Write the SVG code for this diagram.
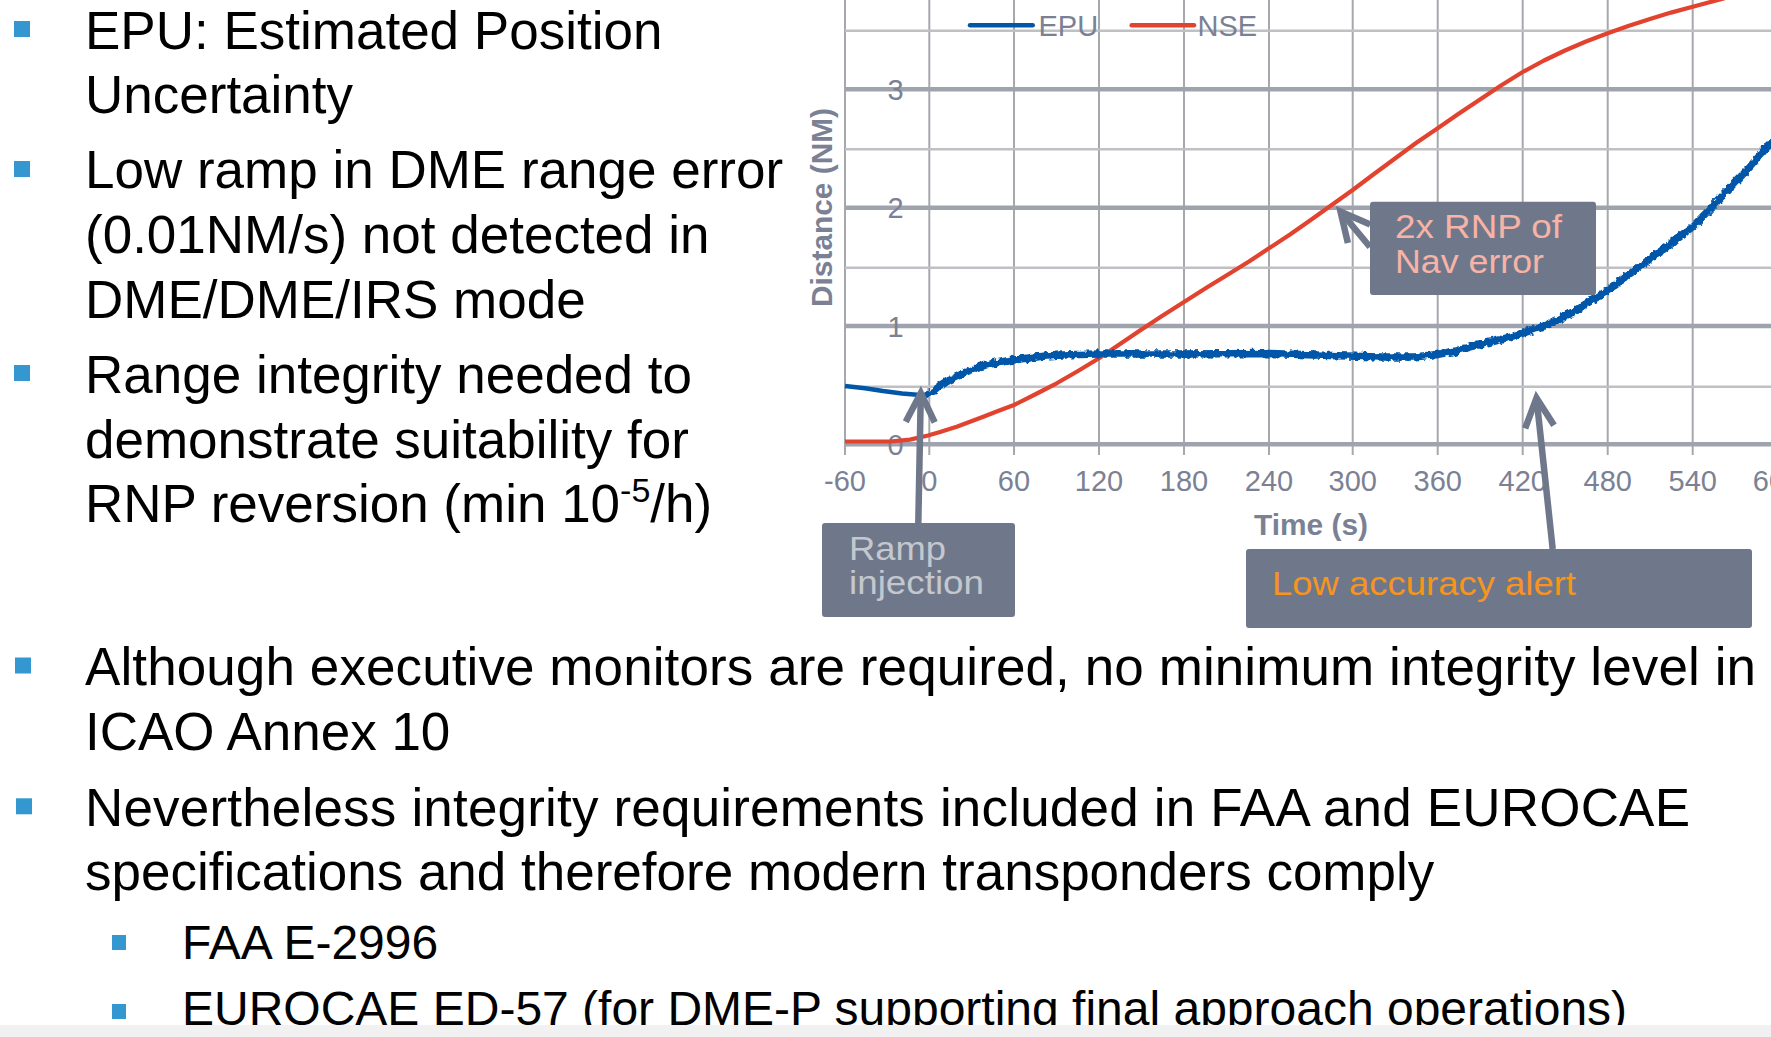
<svg xmlns="http://www.w3.org/2000/svg" width="1771" height="1037" viewBox="0 0 1771 1037">
<style>
.body{font-family:"Liberation Sans",Arial,sans-serif;font-size:53px;fill:#000}
.sub{font-family:"Liberation Sans",Arial,sans-serif;font-size:48px;fill:#000}
.bul{fill:#3497d0}
.tick{font-family:"Liberation Sans",Arial,sans-serif;font-size:29px;fill:#7b8194;text-anchor:middle}
.axt{font-family:"Liberation Sans",Arial,sans-serif;font-size:29px;font-weight:bold;fill:#7b8194;text-anchor:middle}
.leg{font-family:"Liberation Sans",Arial,sans-serif;font-size:29px;fill:#7b8194}
.vg{stroke:#a7a8ae;stroke-width:2}
.hg{stroke:#c0c0c4;stroke-width:2.5}
.hgt{stroke:#9fa3ad;stroke-width:4.5}
.box{fill:#6f788b}
.call{font-family:"Liberation Sans",Arial,sans-serif;font-size:33px}
.arr{fill:none;stroke:#6f788b;stroke-width:6.5;marker-end:url(#chev)}
</style>
<defs>
<marker id="chev" markerUnits="userSpaceOnUse" markerWidth="50" markerHeight="60" viewBox="-40 -30 50 60" refX="0" refY="0" orient="auto">
<path d="M-29,-14.5 L0,0 L-29,14.5" fill="none" stroke="#6f788b" stroke-width="6.5"/>
</marker>
<filter id="jitter" filterUnits="userSpaceOnUse" x="900" y="100" width="880" height="320">
<feTurbulence type="fractalNoise" baseFrequency="0.2" numOctaves="2" seed="7" result="n"/>
<feDisplacementMap in="SourceGraphic" in2="n" scale="6" xChannelSelector="R" yChannelSelector="G"/>
</filter>
</defs>
<rect width="1771" height="1037" fill="#fff"/>

<g id="left-text">
<rect class="bul" x="14" y="21" width="16" height="16"/>
<text class="body" x="85" y="49.3">EPU: Estimated Position</text>
<text class="body" x="85" y="112.7">Uncertainty</text>
<rect class="bul" x="14" y="161" width="16" height="16"/>
<text class="body" x="85" y="188.3">Low ramp in DME range error</text>
<text class="body" x="85" y="253">(0.01NM/s) not detected in</text>
<text class="body" x="85" y="317.5">DME/DME/IRS mode</text>
<rect class="bul" x="14" y="365" width="16" height="16"/>
<text class="body" x="85" y="393">Range integrity needed to</text>
<text class="body" x="85" y="457.5">demonstrate suitability for</text>
<text class="body" x="85" y="522">RNP reversion (min 10<tspan font-size="34" dy="-20">-5</tspan><tspan dy="20">/h)</tspan></text>
</g>

<g id="chart">
<g id="grid">
<line class="vg" x1="845" y1="0" x2="845" y2="455"/>
<line class="vg" x1="929.3" y1="0" x2="929.3" y2="455"/>
<line class="vg" x1="1014" y1="0" x2="1014" y2="455"/>
<line class="vg" x1="1099" y1="0" x2="1099" y2="455"/>
<line class="vg" x1="1184" y1="0" x2="1184" y2="455"/>
<line class="vg" x1="1269" y1="0" x2="1269" y2="455"/>
<line class="vg" x1="1352.7" y1="0" x2="1352.7" y2="455"/>
<line class="vg" x1="1437.7" y1="0" x2="1437.7" y2="455"/>
<line class="vg" x1="1522.7" y1="0" x2="1522.7" y2="455"/>
<line class="vg" x1="1607.7" y1="0" x2="1607.7" y2="455"/>
<line class="vg" x1="1692.7" y1="0" x2="1692.7" y2="455"/>
<line class="hg" x1="845" y1="30.7" x2="1771" y2="30.7"/>
<line class="hgt" x1="845" y1="89.3" x2="1771" y2="89.3"/>
<line class="hg" x1="845" y1="149.3" x2="1771" y2="149.3"/>
<line class="hgt" x1="845" y1="207.7" x2="1771" y2="207.7"/>
<line class="hg" x1="845" y1="267.7" x2="1771" y2="267.7"/>
<line class="hgt" x1="845" y1="326" x2="1771" y2="326"/>
<line class="hg" x1="845" y1="386.7" x2="1771" y2="386.7"/>
<line class="hgt" x1="845" y1="444.3" x2="1771" y2="444.3"/>
</g>
<g id="y-labels">
<text class="tick" x="895.5" y="100">3</text>
<text class="tick" x="895.5" y="218.2">2</text>
<text class="tick" x="895.5" y="336.5">1</text>
<text class="tick" x="895.5" y="454.8">0</text>
</g>
<g id="x-labels">
<text class="tick" x="845" y="490.7">-60</text>
<text class="tick" x="929.3" y="490.7">0</text>
<text class="tick" x="1014" y="490.7">60</text>
<text class="tick" x="1099" y="490.7">120</text>
<text class="tick" x="1184" y="490.7">180</text>
<text class="tick" x="1269" y="490.7">240</text>
<text class="tick" x="1352.7" y="490.7">300</text>
<text class="tick" x="1437.7" y="490.7">360</text>
<text class="tick" x="1522.7" y="490.7">420</text>
<text class="tick" x="1607.7" y="490.7">480</text>
<text class="tick" x="1692.7" y="490.7">540</text>
<text class="tick" x="1777" y="490.7">600</text>
</g>
<text class="axt" transform="translate(832,207.5) rotate(-90)" textLength="199" lengthAdjust="spacingAndGlyphs">Distance (NM)</text>
<text class="axt" x="1311" y="535" textLength="114" lengthAdjust="spacingAndGlyphs">Time (s)</text>
<g id="legend">
<line x1="970" y1="25.3" x2="1032.7" y2="25.3" stroke="#0057a8" stroke-width="4.5" stroke-linecap="round"/>
<text class="leg" x="1038.5" y="35.7">EPU</text>
<line x1="1131.7" y1="25.3" x2="1194" y2="25.3" stroke="#e2432f" stroke-width="4.5" stroke-linecap="round"/>
<text class="leg" x="1197.5" y="35.7">NSE</text>
</g>
<path id="nse" fill="none" stroke="#e2432f" stroke-width="4.2" stroke-linejoin="round" d="M845,441.5 L890,441.5 L910,439.6 L928,435.5 L940,432 L956.7,426.7 L970,421.8 L983.3,416.7 L998,411 L1014,405 L1035,394.5 L1056.7,383.3 L1078,371 L1099,358.3 L1120,344 L1140,330.5 L1162,316 L1184,302 L1206,288 L1228,274.5 L1249,261.5 L1269,248.3 L1290,234.5 L1310,220.5 L1331,205.5 L1352.7,190 L1374,174 L1395,158.5 L1416,143 L1437.7,128.3 L1459,113.5 L1480,99.5 L1501,85.5 L1522.7,72 L1544,60.5 L1565,50.5 L1586,41.5 L1607.7,33.3 L1629,25.8 L1650,19 L1671,12.6 L1692.7,6.7 L1718,0 L1740,-6"/>
<path id="epu-smooth" fill="none" stroke="#0057a8" stroke-width="4.5" stroke-linejoin="round" d="M845,386 L865,388.3 L883,391 L902,393.4 L920,395 L929,395"/>
<path id="epu" fill="none" stroke="#0057a8" stroke-width="7.5" stroke-linejoin="round" filter="url(#jitter)" d="M926,395 L934,391 L940,386 L948,381 L956.7,376.7 L967,371.5 L980,366.7 L996,363 L1014,360 L1035,357 L1056.7,355.3 L1078,354.5 L1099,354 L1173,354 L1270,353.5 L1330,355.5 L1380,357 L1414,357 L1437,354.5 L1455,351 L1471,346.7 L1497,340.5 L1522.7,333.3 L1540,327.5 L1554.3,321.7 L1570,313.5 L1584,305 L1596,298 L1607.7,290.5 L1622,280 L1637.7,268 L1665,248 L1692.7,226.7 L1712,207 L1731,186.7 L1750,167 L1766,148.3 L1771,141"/>
</g>

<g id="connectors">
<path class="arr" d="M918.3,523 L920.8,393"/>
<path class="arr" d="M1552.7,549 L1536.5,398"/>
<path class="arr" d="M1370,247 L1340.5,211.5"/>
</g>

<g id="callout-ramp">
<rect class="box" x="822" y="523" width="193" height="94" rx="3"/>
<text class="call" x="849" y="559.5" fill="#c4c8ce" textLength="97" lengthAdjust="spacingAndGlyphs">Ramp</text>
<text class="call" x="849" y="593.5" fill="#c4c8ce" textLength="135" lengthAdjust="spacingAndGlyphs">injection</text>
</g>
<g id="callout-rnp">
<rect class="box" x="1370" y="201.7" width="226" height="93.3" rx="3"/>
<text class="call" x="1395" y="238.3" fill="#f6b3a6" textLength="167" lengthAdjust="spacingAndGlyphs">2x RNP of</text>
<text class="call" x="1395" y="273.3" fill="#f6b3a6" textLength="149" lengthAdjust="spacingAndGlyphs">Nav error</text>
</g>
<g id="callout-alert">
<rect class="box" x="1246" y="549" width="506" height="79" rx="3"/>
<text class="call" x="1272" y="595" fill="#f7941e" textLength="304" lengthAdjust="spacingAndGlyphs">Low accuracy alert</text>
</g>

<g id="bottom-text">
<rect class="bul" x="15" y="657.5" width="16" height="16"/>
<text class="body" x="85" y="685" textLength="1671">Although executive monitors are required, no minimum integrity level in</text>
<text class="body" x="85" y="749.5">ICAO Annex 10</text>
<rect class="bul" x="16" y="798.3" width="16" height="16"/>
<text class="body" x="85" y="826" textLength="1605">Nevertheless integrity requirements included in FAA and EUROCAE</text>
<text class="body" x="85" y="890">specifications and therefore modern transponders comply</text>
<rect class="bul" x="112" y="935" width="14" height="15"/>
<text class="sub" x="182" y="959.3">FAA E-2996</text>
<rect class="bul" x="112" y="1004" width="14" height="15"/>
<text class="sub" x="182" y="1025">EUROCAE ED-57 (for DME-P supporting final approach operations)</text>
</g>
<rect x="0" y="1025" width="1771" height="12" fill="#f1f1f1"/>
</svg>
